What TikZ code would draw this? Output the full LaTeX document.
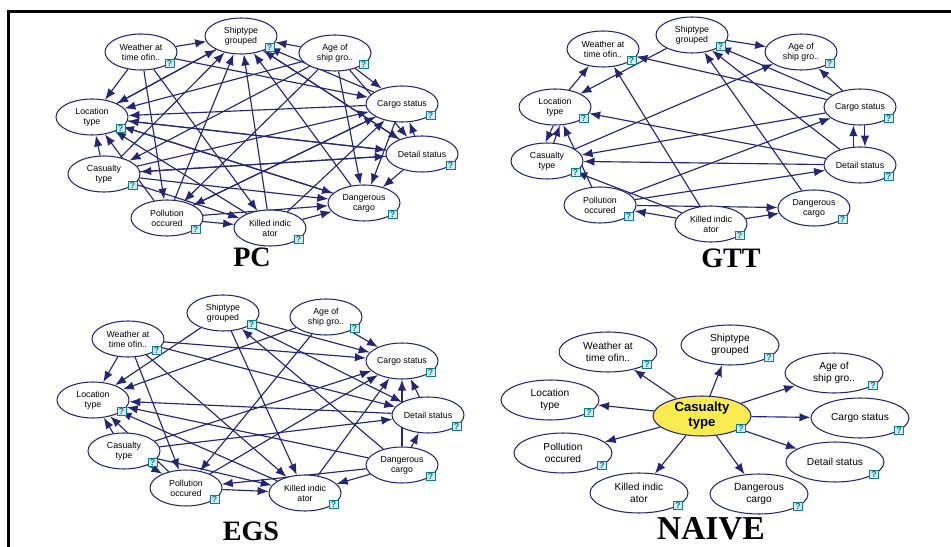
\documentclass[tikz,border=0pt]{standalone}
\usepackage{fontspec}
\setmainfont{Liberation Serif}
\setsansfont{Liberation Sans}
\usetikzlibrary{shapes.geometric,arrows.meta,backgrounds}

\definecolor{netblue}{RGB}{36,38,115}
\definecolor{qteal}{RGB}{20,120,140}
\definecolor{qfill}{RGB}{205,238,244}
\definecolor{causeyellow}{RGB}{250,236,80}

\tikzset{
  bnnode/.style={ellipse, draw=netblue, fill=white, line width=0.6pt,
    minimum width=14.4mm, minimum height=7.2mm, inner sep=0pt, align=center,
    font=\sffamily\fontsize{5}{5.6}\selectfont},
  bnwide/.style={bnnode, minimum width=19.6mm, minimum height=8mm,
    font=\sffamily\fontsize{5.8}{6.6}\selectfont},
  qbox/.style={draw=qteal, fill=qfill, line width=0.45pt, inner sep=0pt,
    minimum width=1.8mm, minimum height=1.6mm, text=qteal,
    font=\sffamily\bfseries\fontsize{5}{5}\selectfont},
  netarrow/.style={draw=netblue, line width=0.65pt, -{Latex[length=2.2mm,width=1.7mm]}},
  paneltitle/.style={font=\bfseries\fontsize{16}{16}\selectfont}
}

\begin{document}
\begin{tikzpicture}[x=0.02cm, y=-0.02cm]
    \useasboundingbox (0,0) rectangle (951,547);
    \draw[line width=0.6mm] (8.5,547) -- (8.5,11.5) -- (951,11.5);

    % PC
    \node[bnnode] (p-ship) at (241,36) {Shiptype\\grouped};
    \node[bnnode] (p-wea) at (141,52) {Weather at\\time ofin..};
    \node[bnnode] (p-age) at (335,53) {Age of\\ship gro..};
    \node[bnnode] (p-cargo) at (402,104) {Cargo status};
    \node[bnnode] (p-loc) at (92,117) {Location\\type};
    \node[bnnode] (p-det) at (422,154) {Detail status};
    \node[bnnode] (p-cas) at (104,174) {Casualty\\type};
    \node[bnnode] (p-dang) at (364,203) {Dangerous\\cargo};
    \node[bnnode] (p-pol) at (167,218) {Pollution\\occured};
    \node[bnnode] (p-kil) at (270,228) {Killed indic\\ator};
    \node[paneltitle] (p-title) at (252,257) {PC};

    % GTT
    \node[bnnode] (g-ship) at (692,35) {Shiptype\\grouped};
    \node[bnnode] (g-wea) at (603,49) {Weather at\\time ofin..};
    \node[bnnode] (g-age) at (801,52) {Age of\\ship gro..};
    \node[bnnode] (g-loc) at (555,107) {Location\\type};
    \node[bnnode] (g-cargo) at (860,107) {Cargo status};
    \node[bnnode] (g-cas) at (547,161) {Casualty\\type};
    \node[bnnode] (g-det) at (860,165) {Detail status};
    \node[bnnode] (g-pol) at (600,205) {Pollution\\occured};
    \node[bnnode] (g-dang) at (814,208) {Dangerous\\cargo};
    \node[bnnode] (g-kil) at (711,224) {Killed indic\\ator};
    \node[paneltitle] (g-title) at (731,258) {GTT};

    % EGS
    \node[bnnode] (e-ship) at (223,313) {Shiptype\\grouped};
    \node[bnnode] (e-age) at (326,317) {Age of\\ship gro..};
    \node[bnnode] (e-wea) at (128,339) {Weather at\\time ofin..};
    \node[bnnode] (e-cargo) at (402,361) {Cargo status};
    \node[bnnode] (e-loc) at (93,400) {Location\\type};
    \node[bnnode] (e-det) at (428,415) {Detail status};
    \node[bnnode] (e-cas) at (124,451) {Casualty\\type};
    \node[bnnode] (e-dang) at (402,465) {Dangerous\\cargo};
    \node[bnnode] (e-pol) at (186,488) {Pollution\\occured};
    \node[bnnode] (e-kil) at (305,493) {Killed indic\\ator};
    \node[paneltitle] (e-title) at (251,531) {EGS};

    % NAIVE
    \node[bnwide] (n-ship) at (730,345) {Shiptype\\grouped};
    \node[bnwide] (n-wea) at (608,352) {Weather at\\time ofin..};
    \node[bnwide] (n-age) at (834,373) {Age of\\ship gro..};
    \node[bnwide] (n-loc) at (550,400) {Location\\type};
    \node[bnwide, fill=causeyellow, font=\sffamily\bfseries\fontsize{7.5}{8.5}\selectfont] (n-cas) at (702,416) {Casualty\\type};
    \node[bnwide] (n-cargo) at (860,418) {Cargo status};
    \node[bnwide] (n-pol) at (563,453) {Pollution\\occured};
    \node[bnwide] (n-det) at (835,462) {Detail status};
    \node[bnwide] (n-kil) at (639,493) {Killed indic\\ator};
    \node[bnwide] (n-dang) at (759,494) {Dangerous\\cargo};
    \node[paneltitle, font=\bfseries\fontsize{19}{19}\selectfont] (n-title) at (711,529) {NAIVE};

    \begin{scope}[on background layer]
        \foreach \s/\t in {wea/ship, age/ship, cargo/ship, loc/ship, cas/ship, pol/ship, kil/ship, dang/ship, det/ship,
                wea/loc, ship/loc, age/loc, cargo/loc, det/loc, dang/loc, kil/loc, cas/loc, pol/loc,
                wea/pol, wea/kil, wea/cargo, age/cargo, age/det, age/dang, age/cas, age/pol,
                cas/kil, cas/dang, cas/cargo, cas/det, pol/kil, pol/dang, pol/cargo, kil/dang, kil/cargo,
                det/cargo, det/dang, det/cas, cargo/dang, cargo/pol, ship/det, loc/dang, loc/det}
            \draw[netarrow] (p-\s) -- (p-\t);
        \foreach \s/\t in {ship/age, ship/loc, loc/wea, kil/wea, cargo/wea, cargo/ship, det/ship, dang/ship,
                cargo/age, cas/age, loc.-95/cas.95, cas.70/loc.-75, pol/loc, det/loc, cargo/cas, det/cas, kil/cas,
                pol/cargo, pol/det, pol/dang, kil/pol, kil/dang, det.110/cargo.-110, cargo.-75/det.75}
            \draw[netarrow] (g-\s) -- (g-\t);
        \foreach \s/\t in {wea/loc, ship/loc, age/loc, ship/cargo, ship/kil, ship/det, age/cargo, age/pol,
                wea/cargo, wea/det, wea/pol, wea/kil, dang/ship, det/loc, dang/loc, kil/loc, cas/loc, pol/loc,
                cas/kil, cas/pol, cas/cargo, cas/det, pol/cargo, kil/cargo, pol/kil, dang/pol, dang/kil,
                dang/det, det/cargo, dang/cargo}
            \draw[netarrow] (e-\s) -- (e-\t);
        \foreach \t in {ship, wea, age, loc, cargo, pol, det, kil, dang}
            \draw[netarrow] (n-cas) -- (n-\t);
    \end{scope}

    \foreach \p in {p,g,e}
        \foreach \n in {ship, wea, age, cargo, loc, det, cas, dang, pol, kil}
            \node[qbox] at (\p-\n.-22) {?};
    \foreach \n in {ship, wea, age, cargo, loc, det, cas, dang, pol, kil}
        \node[qbox] at (n-\n.-18) {?};
\end{tikzpicture}
\end{document}
